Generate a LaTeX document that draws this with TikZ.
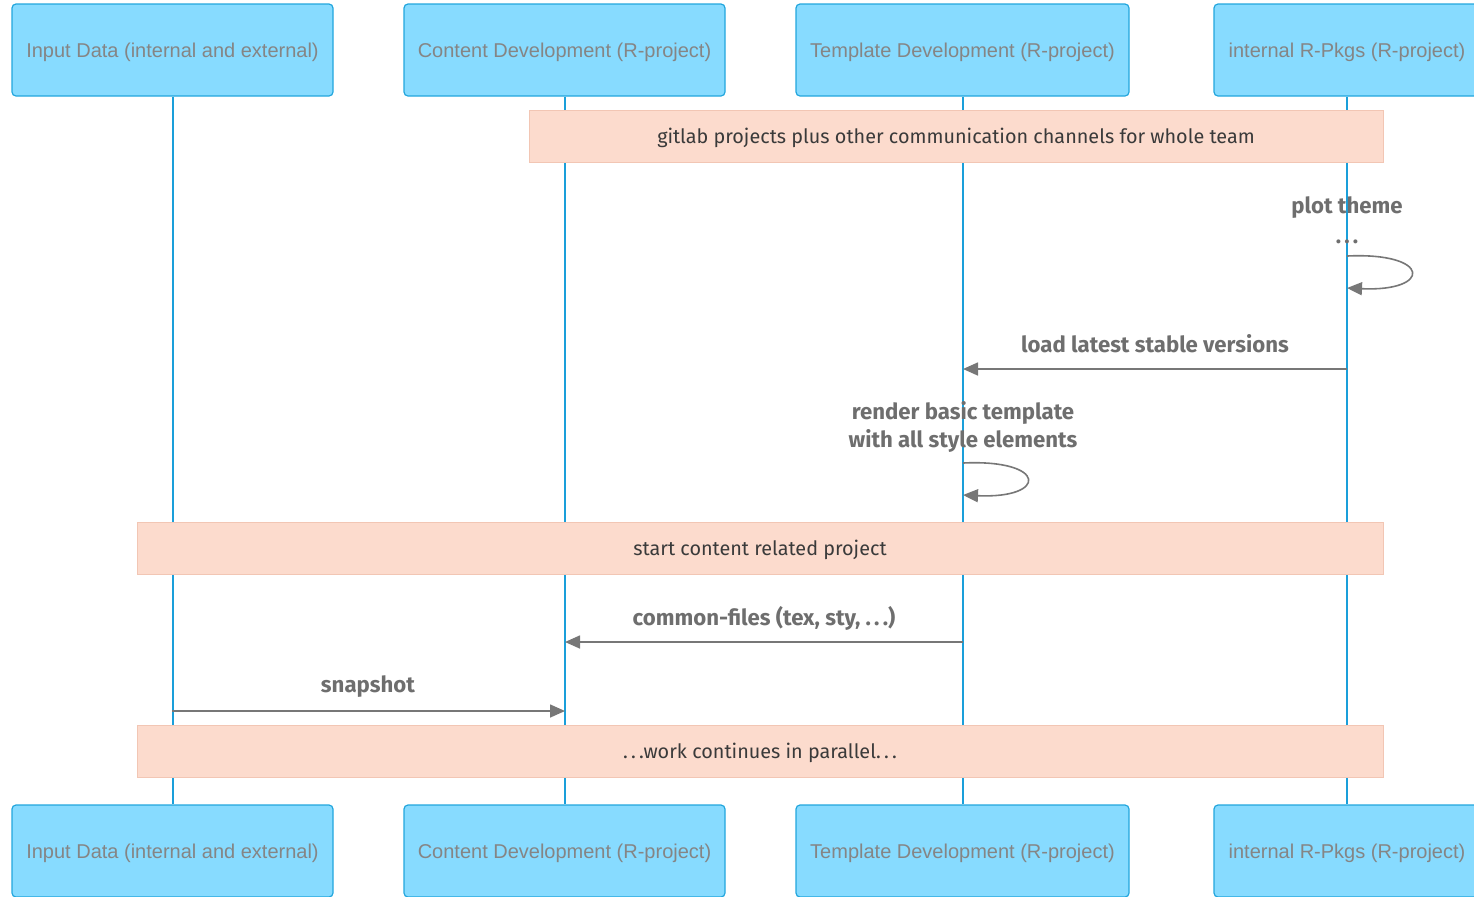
\documentclass[tikz,border=0pt]{standalone}
\usepackage{fontspec}
\setmainfont{Liberation Sans}
\newfontfamily\notefont{Fira Sans}
\usetikzlibrary{arrows.meta}
\definecolor{actfill}{HTML}{87DBFF}
\definecolor{actline}{HTML}{22A6DD}
\definecolor{lifeline}{HTML}{1A9FDA}
\definecolor{notefill}{HTML}{FCDBCD}
\definecolor{noteline}{HTML}{F2C6B4}
\definecolor{acttext}{HTML}{858585}
\definecolor{msgline}{HTML}{777777}
\definecolor{msgtext}{HTML}{6E6E6E}
\definecolor{notetext}{HTML}{3A3A3A}
\newcommand{\dotdotdot}{.\kern1.6pt.\kern1.6pt.}

\begin{document}
\begin{tikzpicture}[x=0.5pt, y=-0.5pt, >={Triangle[length=7.5pt,width=6.5pt]},
    actor/.style={draw=actline, fill=actfill, rounded corners=2pt, line width=0.6pt,
      minimum height=46pt, inner sep=0pt, text height=9.3pt, text depth=2.1pt,
      text=acttext, font=\fontsize{10}{12}\selectfont},
    note/.style={draw=noteline, fill=notefill, line width=0.5pt, minimum height=26pt,
      inner sep=0pt, text height=9.3pt, text depth=2.3pt,
      text=notetext, font=\notefont\fontsize{9.9}{12}\selectfont},
    msg/.style={text=msgtext, align=center, font=\notefont\bfseries\fontsize{11.1}{14}\selectfont},
    life/.style={draw=lifeline, line width=1pt},
    call/.style={draw=msgline, line width=0.8pt, ->}]
  \useasboundingbox (0,0) rectangle (1474,896);

  % top row: participants
  \node[actor, minimum width=160.5pt] (a1) at (172.5,50) {Input Data (internal and external)};
  \node[actor, minimum width=160.5pt] (a2) at (564.5,50) {Content Development (R-project)};
  \node[actor, minimum width=166.5pt] (a3) at (962.5,50) {Template Development (R-project)};
  \node[actor, minimum width=133pt] (a4) at (1347,50) {internal R-Pkgs (R-project)};

  % bottom row: participants again
  \node[actor, minimum width=160.5pt] (b1) at (172.5,851) {Input Data (internal and external)};
  \node[actor, minimum width=160.5pt] (b2) at (564.5,851) {Content Development (R-project)};
  \node[actor, minimum width=166.5pt] (b3) at (962.5,851) {Template Development (R-project)};
  \node[actor, minimum width=133pt] (b4) at (1347,851) {internal R-Pkgs (R-project)};

  % lifelines
  \draw[life] (a1) -- (b1);
  \draw[life] (a2) -- (b2);
  \draw[life] (a3) -- (b3);
  \draw[life] (a4) -- (b4);

  % notes over the lifelines
  \node[note, minimum width=427pt] (note1) at (956,136) {gitlab projects plus other communication channels for whole team};
  \node[note, minimum width=623pt] (note2) at (760,548) {start content related project};
  \node[note, minimum width=623pt] (note3) at (760,751) {\dotdotdot work continues in parallel\dotdotdot};

  % self call: plot theme
  \node[msg] (m1) at (1347,220) {plot theme\\[1pt]\dotdotdot};
  \coordinate (s1) at (1347,256);
  \coordinate (e1) at (1347,288);
  \draw[call] (s1) .. controls (1432,252) and (1432,292) .. (e1);

  % load latest stable versions
  \coordinate (s2) at (1347,369);
  \coordinate (e2) at (963,369);
  \node[msg] (m2) at (1155,344) {load latest stable versions};
  \draw[call] (s2) -- (e2);

  % self call: render basic template
  \node[msg] (m3) at (963,427) {render basic template\\with all style elements};
  \coordinate (s3) at (963,463);
  \coordinate (e3) at (963,495);
  \draw[call] (s3) .. controls (1048,459) and (1048,499) .. (e3);

  % common-files
  \coordinate (s4) at (963,642);
  \coordinate (e4) at (565,642);
  \node[msg] (m4) at (764,618) {common-files (tex, sty, \dotdotdot)};
  \draw[call] (s4) -- (e4);

  % snapshot
  \coordinate (s5) at (172,711);
  \coordinate (e5) at (565,711);
  \node[msg] (m5) at (368,687) {snapshot};
  \draw[call] (s5) -- (e5);
\end{tikzpicture}
\end{document}
